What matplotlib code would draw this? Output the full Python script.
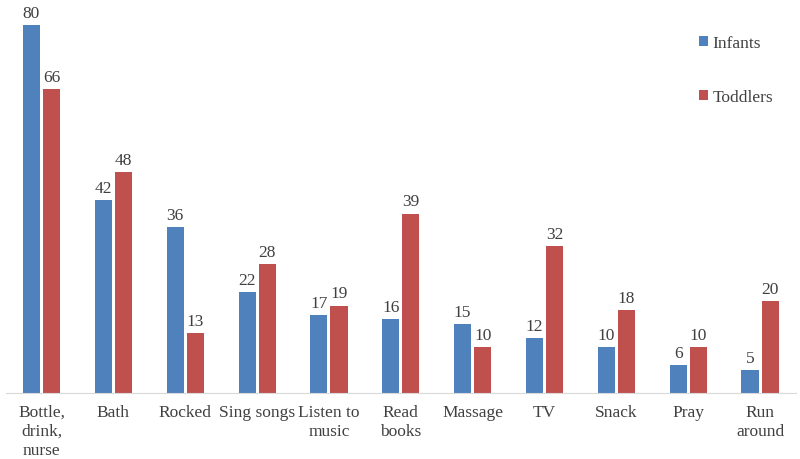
import numpy as np
import matplotlib
matplotlib.use('Agg')
import matplotlib.pyplot as plt

categories = ['Bottle,\ndrink,\nnurse', 'Bath', 'Rocked', 'Sing songs', 'Listen to\nmusic',
              'Read\nbooks', 'Massage', 'TV', 'Snack', 'Pray', 'Run\naround']
infants = [80, 42, 36, 22, 17, 16, 15, 12, 10, 6, 5]
toddlers = [66, 48, 13, 28, 19, 39, 10, 32, 18, 10, 20]

plt.rcParams['font.family'] = ['Liberation Serif', 'DejaVu Serif']
text_color = '#404040'

fig = plt.figure(figsize=(8, 4.6), dpi=100)
ax = fig.add_axes([0.007, 0.1435, 0.988, 0.85])

x = np.arange(len(categories))
w = 0.237
off = 0.14
b1 = ax.bar(x - off, infants, w, color='#4F81BD', label='Infants')
b2 = ax.bar(x + off, toddlers, w, color='#C0504D', label='Toddlers')

for bars in (b1, b2):
    ax.bar_label(bars, padding=3, fontsize=12.5, color=text_color)

ax.set_xlim(-0.5, len(categories) - 0.5)
ax.set_ylim(0, 85)
ax.set_xticks(x)
ax.set_xticklabels(categories, fontsize=12.5, color=text_color, linespacing=1.25)
ax.tick_params(axis='x', length=0, pad=8)
ax.set_yticks([])
for s in ['top', 'right', 'left']:
    ax.spines[s].set_visible(False)
ax.spines['bottom'].set_color('#D9D9D9')

leg = ax.legend(loc='upper left', bbox_to_anchor=(0.857, 0.955), frameon=False,
                fontsize=12.5, handlelength=0.55, handleheight=0.55, handletextpad=0.25,
                labelspacing=2.2)
for t in leg.get_texts():
    t.set_color(text_color)

fig.savefig('out.png', dpi=100)
